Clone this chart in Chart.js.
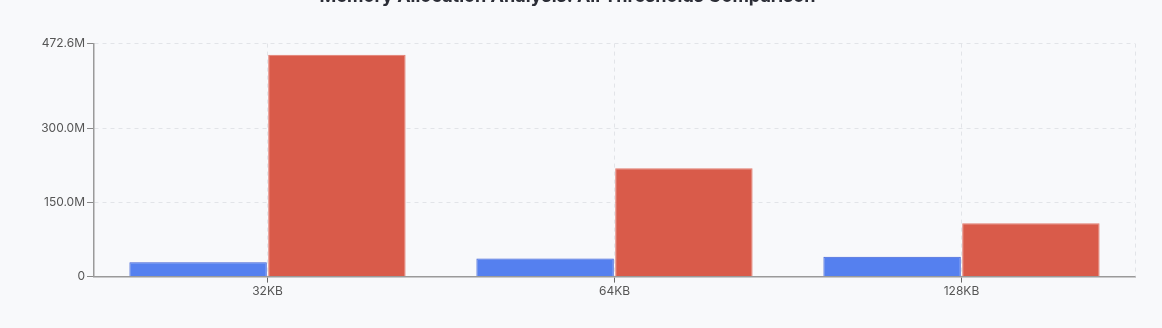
<!DOCTYPE html>
<html>
<head>
<meta charset="utf-8">
<script src="https://cdn.jsdelivr.net/npm/chart.js@4.4.1/dist/chart.umd.min.js"></script>
<style>
  html, body { margin: 0; padding: 0; background: #f8f9fb; overflow: hidden; }
  #wrap { position: relative; width: 1162px; height: 352px; margin-top: -24px; }
</style>
</head>
<body>
<div id="wrap"><canvas id="memChart"></canvas></div>
<script>
const thresholds = ["32KB", "64KB", "128KB"];
const baselineBytes = [29e6, 36.5e6, 40.5e6];
const comparisonBytes = [450.1e6, 220e6, 108e6];
const yTicks = [0, 150e6, 300e6, 472.6e6];

const ctx = document.getElementById("memChart").getContext("2d");

// dashed line along the right side of the plot
const rightEdge = {
  id: "rightEdge",
  beforeDatasetsDraw(chart) {
    const a = chart.chartArea;
    const c = chart.ctx;
    c.save();
    c.strokeStyle = "#e2e4e8";
    c.lineWidth = 1;
    c.setLineDash([4, 4]);
    c.beginPath();
    c.moveTo(a.right + 0.5, a.top);
    c.lineTo(a.right + 0.5, a.bottom);
    c.stroke();
    c.restore();
  }
};

new Chart(ctx, {
  type: "bar",
  data: {
    labels: thresholds,
    datasets: [
      {
        label: "Baseline",
        data: baselineBytes,
        backgroundColor: "#5580ef",
        borderColor: "#3d5fd6",
        borderWidth: 1
      },
      {
        label: "Comparison",
        data: comparisonBytes,
        backgroundColor: "#d95b4a",
        borderColor: "#e27a6d",
        borderWidth: 1
      }
    ]
  },
  options: {
    responsive: true,
    maintainAspectRatio: false,
    animation: false,
    categoryPercentage: 0.8,
    barPercentage: 0.99,
    layout: { padding: { left: 0, right: 27, bottom: 27 } },
    plugins: {
      legend: { display: false },
      tooltip: { enabled: false },
      title: {
        display: true,
        text: "Memory Allocation Analysis: All Thresholds Comparison",
        color: "#2b2d36",
        font: { family: "Inter", size: 18, weight: "bold" },
        padding: { top: 10, bottom: 36 }
      }
    },
    scales: {
      x: {
        grid: {
          offset: false,
          color: "#e2e4e8",
          tickColor: "#666",
          tickLength: 6,
          tickBorderDash: []
        },
        border: { color: "#9a9a9a", width: 1.5, dash: [4, 4] },
        ticks: {
          color: "#555",
          font: { family: "Inter", size: 12 },
          padding: 2
        }
      },
      y: {
        min: 0,
        max: 472.6e6,
        afterBuildTicks(axis) {
          axis.ticks = yTicks.map(v => ({ value: v }));
        },
        afterFit(axis) {
          axis.width = 94;
        },
        grid: {
          color: "#e2e4e8",
          tickColor: "#888",
          tickLength: 7,
          tickBorderDash: []
        },
        border: { color: "#9a9a9a", width: 1.5, dash: [4, 4] },
        ticks: {
          color: "#555",
          font: { family: "Inter", size: 12 },
          padding: 2,
          callback: v => v === 0 ? "0" : (v / 1e6).toFixed(1) + "M"
        }
      }
    }
  },
  plugins: [rightEdge]
});
</script>
</body>
</html>
